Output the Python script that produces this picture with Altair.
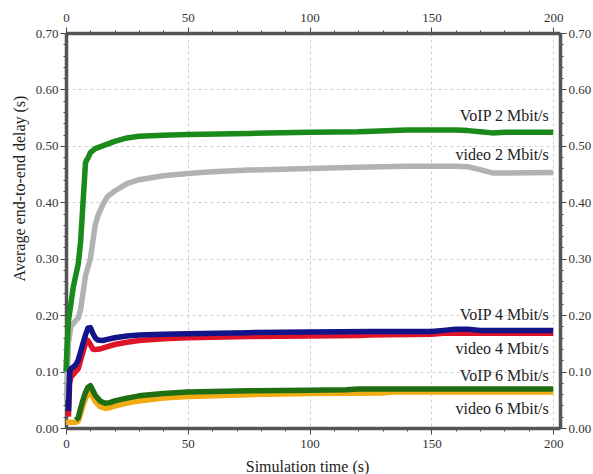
import altair as alt
import pandas as pd

# ---- series data: simulation time (s) and average end-to-end delay (s) ----
voip2_t = [0, 0.5, 1, 2, 3, 4, 5, 6, 7, 8, 8.5, 9, 10, 12, 15, 20, 25, 30, 40, 50,
           75, 100, 120, 140, 160, 165, 170, 175, 180, 200]
voip2_y = [0.10, 0.15, 0.19, 0.22, 0.25, 0.27, 0.29, 0.33, 0.40, 0.47, 0.475, 0.478, 0.488,
           0.495, 0.50, 0.508, 0.514, 0.517, 0.519, 0.520, 0.522, 0.524, 0.525, 0.528,
           0.528, 0.527, 0.525, 0.523, 0.524, 0.524]

video2_t = [0.3, 1, 2, 3, 4, 5, 6, 7, 8, 9, 10, 11, 12, 13, 15, 17, 20, 25, 30, 40, 50,
            60, 75, 100, 120, 140, 160, 165, 170, 175, 180, 200]
video2_y = [0.05, 0.15, 0.18, 0.185, 0.19, 0.195, 0.21, 0.24, 0.27, 0.285, 0.30, 0.33, 0.36,
            0.375, 0.395, 0.41, 0.42, 0.433, 0.44, 0.447, 0.451, 0.454, 0.457, 0.46, 0.462,
            0.464, 0.464, 0.463, 0.458, 0.452, 0.452, 0.453]

voip4_t = [1, 1.5, 2, 3, 4, 5, 6, 7, 8, 9, 10, 11, 12, 13, 15, 17, 20, 25, 30, 40, 50,
           75, 100, 125, 150, 155, 160, 165, 170, 200]
voip4_y = [0.03, 0.10, 0.105, 0.108, 0.112, 0.12, 0.135, 0.15, 0.165, 0.177, 0.178, 0.168,
           0.16, 0.156, 0.155, 0.157, 0.16, 0.163, 0.165, 0.166, 0.167, 0.169, 0.17, 0.171,
           0.171, 0.173, 0.175, 0.175, 0.173, 0.173]

video4_t = [1, 1.5, 2, 3, 4, 5, 6, 7, 8, 9, 10, 11, 12, 14, 16, 20, 25, 30, 40, 50, 75,
            100, 120, 125, 150, 155, 200]
video4_y = [0.02, 0.08, 0.09, 0.095, 0.10, 0.105, 0.12, 0.135, 0.15, 0.155, 0.148, 0.14,
            0.139, 0.14, 0.143, 0.148, 0.152, 0.155, 0.158, 0.16, 0.162, 0.163, 0.164,
            0.165, 0.166, 0.168, 0.168]

voip6_t = [4, 5, 6, 7, 8, 9, 10, 11, 12, 14, 16, 18, 20, 25, 30, 40, 50, 75, 100, 115,
           120, 135, 200]
voip6_y = [0.014, 0.018, 0.035, 0.05, 0.063, 0.072, 0.075, 0.067, 0.058, 0.048, 0.044,
           0.045, 0.048, 0.053, 0.057, 0.061, 0.064, 0.066, 0.067, 0.068, 0.069, 0.069, 0.069]

video6_t = [0, 2, 4, 5, 6, 7, 8, 9, 10, 11, 12, 14, 16, 18, 20, 25, 30, 40, 50, 75, 100,
            130, 135, 200]
video6_y = [0.01, 0.01, 0.01, 0.012, 0.025, 0.04, 0.052, 0.06, 0.062, 0.055, 0.047, 0.038,
            0.035, 0.036, 0.039, 0.044, 0.048, 0.053, 0.056, 0.059, 0.061, 0.062, 0.064, 0.064]

# ---- curve labels ----
label_text = ["VoIP 2 Mbit/s", "video 2 Mbit/s", "VoIP 4 Mbit/s",
              "video 4 Mbit/s", "VoIP 6 Mbit/s", "video 6 Mbit/s"]
label_x = [198.2, 198.2, 198.2, 198.2, 198.2, 198.2]
label_y = [0.553, 0.484, 0.201, 0.140, 0.093, 0.034]

# ---- axis ticks ----
x_ticks = list(range(0, 201, 10))
y_ticks = [round(i * 0.02, 2) for i in range(36)]

FONT = "Liberation Serif"
FRAME = "#555555"

x_scale = alt.Scale(domain=[0, 202.8], nice=False, zero=False)
y_scale = alt.Scale(domain=[0, 0.70], nice=False, zero=False)

x_major = "datum.value % 50 === 0"
y_major = "abs(datum.value * 10 - round(datum.value * 10)) < 1e-6"


def x_axis(orient, with_grid, title=None):
    kw = dict(
        orient=orient, values=x_ticks,
        labelExpr=f"{x_major} ? format(datum.value, 'd') : ''",
        tickSize={"condition": {"test": x_major, "value": 6}, "value": 3},
        tickColor="#444", tickWidth=1,
        domainColor=FRAME, domainWidth=3.5,
        labelFont=FONT, labelFontSize=13, labelColor="#333",
        labelPadding=3, labelOverlap=False, labelFlush=False,
        grid=with_grid,
        gridDash=[3, 3], gridColor="#cfcfcf", gridWidth=1,
        gridOpacity={"condition": {"test": x_major, "value": 1}, "value": 0},
    )
    if title:
        kw.update(title=title, titleFont=FONT, titleFontSize=16, titleFontWeight="normal",
                  titleColor="#222", titleAlign="center", titleBaseline="middle",
                  titleX=241, titleY=38)
    else:
        kw.update(title=None)
    return alt.Axis(**kw)


def y_axis(orient, with_grid, title=None):
    kw = dict(
        orient=orient, values=y_ticks,
        labelExpr=f"{y_major} ? format(datum.value, '.2f') : ''",
        tickSize={"condition": {"test": y_major, "value": 6}, "value": 3},
        tickColor="#444", tickWidth=1,
        domainColor=FRAME, domainWidth=3.5,
        labelFont=FONT, labelFontSize=13, labelColor="#333",
        labelPadding=2, labelOverlap=False, labelFlush=False,
        grid=with_grid,
        gridDash=[3, 3], gridColor="#cfcfcf", gridWidth=1,
        gridOpacity={"condition": {"test": y_major, "value": 1}, "value": 0},
    )
    if title:
        kw.update(title=title, titleFont=FONT, titleFontSize=16, titleFontWeight="normal",
                  titleColor="#222", titleAngle=-90, titleAlign="center",
                  titleBaseline="middle", titleX=-47, titleY=155)
    else:
        kw.update(title=None)
    return alt.Axis(**kw)


def series_layer(ts, ys, color, axes=None):
    df = pd.DataFrame({"t": ts, "d": ys})
    if axes is None:
        xa, ya = None, None
    else:
        xa, ya = axes
    return alt.Chart(df).mark_line(
        color=color, strokeWidth=5.5, strokeJoin="round", strokeCap="butt"
    ).encode(
        x=alt.X("t:Q", scale=x_scale, axis=xa),
        y=alt.Y("d:Q", scale=y_scale, axis=ya),
    )


bottom_left = (x_axis("bottom", True, "Simulation time (s)"),
               y_axis("left", True, "Average end-to-end delay (s)"))

lines = [
    series_layer(video2_t, video2_y, "#b2b2b2", bottom_left),
    series_layer(voip2_t, voip2_y, "#1a8a1a"),
    series_layer(video4_t, video4_y, "#e01428"),
    series_layer(voip4_t, voip4_y, "#13138a"),
    series_layer(video6_t, video6_y, "#f2ab12"),
    series_layer(voip6_t, voip6_y, "#1f6e12"),
]

labels_df = pd.DataFrame({"x": label_x, "y": label_y, "txt": label_text})
labels = alt.Chart(labels_df).mark_text(
    font=FONT, fontSize=16, align="right", baseline="middle", color="#222"
).encode(
    x=alt.X("x:Q", scale=x_scale, axis=x_axis("top", False)),
    y=alt.Y("y:Q", scale=y_scale, axis=y_axis("right", False)),
    text="txt:N",
)

chart = alt.layer(*lines, labels).resolve_axis(
    x="independent", y="independent"
).properties(
    width=494, height=395,
    autosize=alt.AutoSizeParams(type="none"),
    padding={"left": 66, "top": 33, "right": 33, "bottom": 46},
    background="white",
).configure_view(stroke=None)

chart.save("out.html", embed_options={"renderer": "svg", "actions": False})
